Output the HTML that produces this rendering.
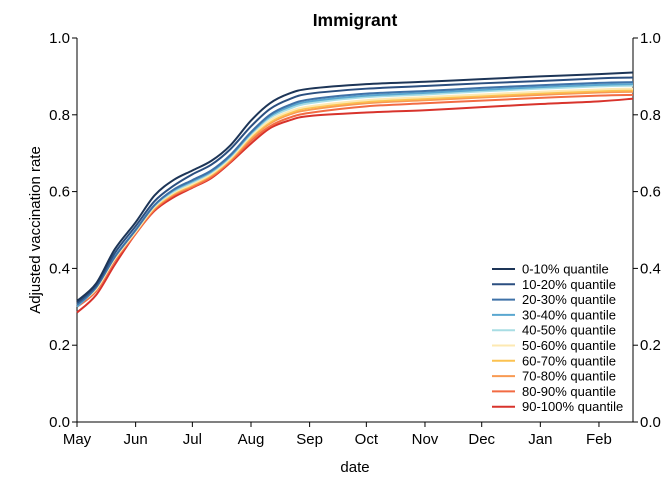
<!DOCTYPE html>
<html><head><meta charset="utf-8"><style>
body{margin:0;background:#fff}
svg{display:block;font-family:"Liberation Sans",Arial,sans-serif}
</style></head><body>
<svg id="chart" width="672" height="480" viewBox="0 0 672 480">
<text x="355" y="26" text-anchor="middle" font-size="17.5" font-weight="bold">Immigrant</text>
<text transform="translate(40,230) rotate(-90)" text-anchor="middle" font-size="15">Adjusted vaccination rate</text>
<text x="355" y="472" text-anchor="middle" font-size="15">date</text>
<g id="axes"></g>
<g id="lines"></g>
<g id="legend"></g>
</svg>
<script>
const days = [0,10,20,31,41,51,61,71,81,92,102,112,123,153,184,214,245,276,294];
const seriesNames = ["0-10% quantile","10-20% quantile","20-30% quantile","30-40% quantile","40-50% quantile","50-60% quantile","60-70% quantile","70-80% quantile","80-90% quantile","90-100% quantile"];
const s1 = [0.315,0.36,0.45,0.52,0.59,0.63,0.655,0.68,0.72,0.785,0.83,0.855,0.868,0.88,0.886,0.893,0.9,0.906,0.91];
const s2 = [0.31,0.355,0.44,0.51,0.575,0.615,0.645,0.67,0.71,0.77,0.815,0.84,0.855,0.868,0.875,0.882,0.888,0.895,0.897];
const s3 = [0.305,0.35,0.43,0.5,0.565,0.605,0.63,0.655,0.695,0.755,0.8,0.825,0.84,0.855,0.862,0.87,0.877,0.883,0.885];
const s4 = [0.30,0.35,0.43,0.5,0.565,0.603,0.627,0.652,0.692,0.752,0.796,0.82,0.835,0.85,0.857,0.865,0.872,0.878,0.88];
const s5 = [0.305,0.35,0.43,0.5,0.563,0.6,0.624,0.65,0.69,0.75,0.792,0.815,0.83,0.846,0.853,0.861,0.868,0.874,0.876];
const s6 = [0.305,0.345,0.425,0.495,0.56,0.597,0.62,0.646,0.686,0.745,0.785,0.808,0.822,0.838,0.846,0.853,0.86,0.866,0.868];
const s7 = [0.305,0.345,0.425,0.495,0.558,0.595,0.618,0.644,0.684,0.742,0.781,0.804,0.818,0.834,0.842,0.849,0.856,0.862,0.864];
const s8 = [0.31,0.35,0.425,0.495,0.557,0.593,0.616,0.642,0.682,0.738,0.777,0.8,0.813,0.83,0.838,0.845,0.852,0.858,0.86];
const s9 = [0.3,0.34,0.42,0.49,0.553,0.59,0.612,0.638,0.678,0.732,0.77,0.792,0.805,0.822,0.83,0.837,0.844,0.85,0.852];
const s10 = [0.285,0.33,0.41,0.49,0.55,0.585,0.61,0.635,0.675,0.725,0.765,0.785,0.797,0.806,0.812,0.82,0.828,0.835,0.842];
const seriesValues = [s1,s2,s3,s4,s5,s6,s7,s8,s9,s10];
const colors = ["#1d3557","#2b4f80","#3f72a8","#5aa7d0","#a8dde4","#fde9b2","#fcc250","#f89a52","#f26b43","#d8332c"];
const monthLabels = ["May","Jun","Jul","Aug","Sep","Oct","Nov","Dec","Jan","Feb"];
const monthDays = [0,31,61,92,123,153,184,214,245,276];
const yTicks = [0,0.2,0.4,0.6,0.8,1.0];
const yTickLabels = ["0.0","0.2","0.4","0.6","0.8","1.0"];

const X0=77,X1=633,Y0=422,Y1=38,DMAX=294;
const xs = d => X0 + d/DMAX*(X1-X0);
const ys = v => Y0 - v*(Y0-Y1);
const NS="http://www.w3.org/2000/svg";
function mk(tag, attrs, parent, text){const e=document.createElementNS(NS,tag);for(const k in attrs)e.setAttribute(k,attrs[k]);if(text!==undefined)e.textContent=text;parent.appendChild(e);return e;}
const axes=document.getElementById('axes');
let e;
e=mk('line',{x1:X0,y1:Y1,x2:X0,y2:Y0,stroke:'#000','stroke-width':1},axes);


e=mk('line',{x1:X1,y1:Y1,x2:X1,y2:Y0,stroke:'#000','stroke-width':1},axes);


e=mk('line',{x1:X0,y1:Y0,x2:X1,y2:Y0,stroke:'#000','stroke-width':1},axes);


yTicks.forEach((v,i)=>{
  const y=ys(v);
  mk('line',{x1:X0-5,y1:y,x2:X0,y2:y,stroke:'#000'},axes);
  mk('line',{x1:X1,y1:y,x2:X1+5,y2:y,stroke:'#000'},axes);
  e=mk('text',{x:X0-7,y:y+5,'text-anchor':'end','font-size':15},axes,yTickLabels[i]);
  
  
  e=mk('text',{x:X1+7,y:y+5,'text-anchor':'start','font-size':15},axes,yTickLabels[i]);
  
  
});
monthDays.forEach((d,i)=>{
  const x=xs(d);
  mk('line',{x1:x,y1:Y0,x2:x,y2:Y0+5,stroke:'#000'},axes);
  e=mk('text',{x:x,y:Y0+22,'text-anchor':'middle','font-size':15},axes,monthLabels[i]);
  
  
});
function smoothPath(pts){
  let d=`M${pts[0][0]},${pts[0][1]}`;
  for(let i=0;i<pts.length-1;i++){
    const p0=pts[Math.max(0,i-1)],p1=pts[i],p2=pts[i+1],p3=pts[Math.min(pts.length-1,i+2)];
    const c1x=p1[0]+(p2[0]-p0[0])/6,c1y=p1[1]+(p2[1]-p0[1])/6;
    const c2x=p2[0]-(p3[0]-p1[0])/6,c2y=p2[1]-(p3[1]-p1[1])/6;
    d+=` C${c1x},${c1y} ${c2x},${c2y} ${p2[0]},${p2[1]}`;
  }
  return d;
}
const lines=document.getElementById('lines');
for(let k=seriesValues.length-1;k>=0;k--){
  const pts=days.map((d,i)=>[xs(d),ys(seriesValues[k][i])]);
  e=mk('path',{d:smoothPath(pts),fill:'none',stroke:colors[k],'stroke-width':2},lines);
  
  
}
const legend=document.getElementById('legend');
seriesNames.forEach((n,i)=>{
  const y=269+i*15.3;
  const g=mk('g',{},legend);
  
  
  mk('line',{x1:492,y1:y,x2:515,y2:y,stroke:colors[i],'stroke-width':2},g);
  mk('text',{x:522,y:y+4.5,'font-size':13},g,n);
});
</script>
</body></html>
